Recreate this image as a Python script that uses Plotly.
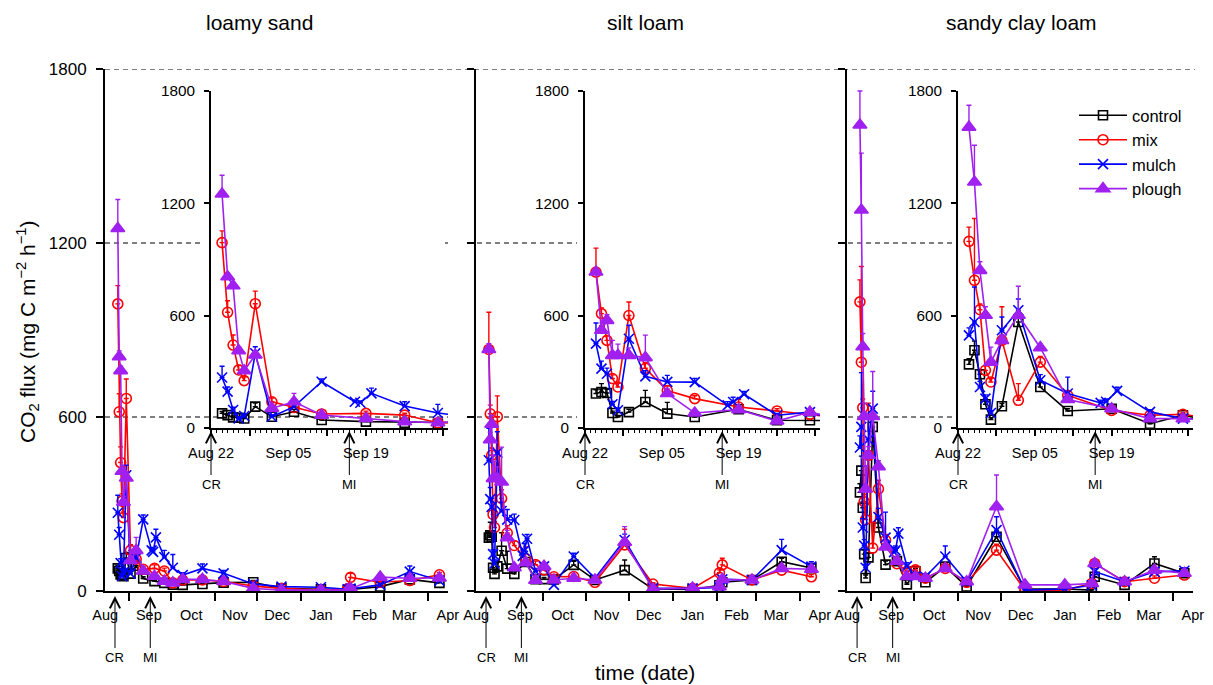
import plotly.graph_objects as go

W, H = 1213, 685

soil_names = ["loamy sand", "silt loam", "sandy clay loam"]
treatments = ["control", "mix", "mulch", "plough"]

# sampling dates (control, mix, plough) and mulch (extra dates after mulch incorporation)
sample_dates = ["2013-08-24", "2013-08-25", "2013-08-26", "2013-08-27", "2013-08-28",
                "2013-08-30", "2013-09-02", "2013-09-06", "2013-09-11", "2013-09-19",
                "2013-09-26", "2013-10-02", "2013-10-09", "2013-10-23", "2013-11-07",
                "2013-11-28", "2013-12-18", "2014-01-15", "2014-02-03", "2014-02-05",
                "2014-02-26", "2014-03-19", "2014-04-09"]
mulch_dates = ["2013-08-24", "2013-08-25", "2013-08-26", "2013-08-27", "2013-08-28",
               "2013-08-30", "2013-09-02", "2013-09-06", "2013-09-11", "2013-09-17",
               "2013-09-18", "2013-09-20", "2013-09-26", "2013-10-02", "2013-10-09",
               "2013-10-23", "2013-11-07", "2013-11-28", "2013-12-18", "2014-01-15",
               "2014-02-03", "2014-02-05", "2014-02-26", "2014-03-19", "2014-04-09"]

# loamy sand
ls_control = [78, 69, 57, 55, 51, 114, 60, 87, 43, 34, 28, 22, 21, 24, 29, 30, 9, 6, 3, 5, 15, 40, 28]
ls_control_err = [10, 8, 8, 6, 6, 19, 8, 12, 6, 5, 4, 4, 4, 5, 5, 6, 3, 2, 2, 2, 4, 8, 6]
ls_mix = [990, 618, 443, 310, 253, 664, 140, 110, 75, 78, 69, 28, 38, 38, 33, 17, 9, 3, 8, 47, 30, 36, 56]
ls_mix_err = [63, 62, 54, 25, 20, 67, 20, 15, 10, 12, 10, 6, 6, 6, 6, 4, 3, 2, 3, 14, 5, 6, 8]
ls_mulch = [270, 194, 96, 51, 64, 399, 60, 114, 247, 140, 135, 185, 117, 80, 55, 78, 61, 24, 15, 13, 6, 8, 21, 67, 36]
ls_mulch_err = [60, 25, 15, 8, 10, 35, 10, 15, 15, 10, 10, 28, 23, 46, 8, 15, 10, 5, 4, 3, 2, 3, 5, 19, 8]
ls_plough = [1250, 808, 760, 413, 306, 390, 105, 140, 69, 51, 34, 28, 40, 40, 33, 9, 3, 3, 3, 8, 48, 44, 45]
ls_plough_err = [100, 20, 15, 21, 20, 20, 15, 45, 10, 8, 6, 5, 6, 6, 6, 3, 2, 2, 2, 3, 8, 6, 6]

# silt loam
sl_control = [184, 192, 187, 80, 59, 85, 139, 77, 59, 100, 41, 41, 40, 90, 38, 72, 7, 5, 20, 30, 38, 101, 79]
sl_control_err = [20, 45, 20, 10, 8, 15, 62, 60, 10, 15, 6, 6, 6, 12, 6, 35, 3, 2, 4, 6, 6, 12, 10]
sl_mix = [833, 611, 468, 264, 219, 601, 319, 200, 157, 112, 91, 73, 49, 50, 30, 159, 24, 9, 63, 90, 38, 72, 49]
sl_mix_err = [128, 30, 25, 20, 20, 72, 30, 25, 15, 40, 12, 10, 8, 8, 6, 54, 5, 3, 10, 23, 6, 10, 8]
sl_mulch = [451, 317, 290, 127, 95, 477, 276, 246, 245, 121, 139, 180, 68, 85, 21, 119, 44, 176, 9, 9, 12, 40, 38, 141, 84]
sl_mulch_err = [110, 40, 30, 15, 12, 72, 30, 35, 20, 20, 25, 15, 10, 12, 5, 11, 8, 20, 3, 3, 4, 8, 6, 37, 17]
sl_plough = [833, 522, 575, 388, 388, 388, 376, 184, 80, 98, 37, 85, 38, 44, 38, 168, 7, 10, 15, 40, 38, 78, 75]
sl_plough_err = [20, 25, 30, 80, 60, 40, 120, 25, 10, 15, 6, 12, 6, 8, 6, 54, 3, 3, 4, 8, 6, 10, 10]

# sandy clay loam
scl_control = [340, 415, 287, 127, 45, 116, 566, 219, 91, 103, 23, 68, 30, 84, 15, 187, 7, 7, 3, 49, 21, 95, 61]
scl_control_err = [30, 50, 20, 15, 10, 15, 40, 30, 12, 15, 5, 10, 6, 12, 4, 20, 2, 2, 2, 8, 5, 23, 8]
scl_mix = [997, 789, 632, 308, 246, 468, 148, 352, 175, 94, 68, 73, 44, 78, 30, 141, 3, 3, 26, 95, 32, 44, 55]
scl_mix_err = [76, 330, 30, 25, 20, 180, 89, 30, 20, 12, 10, 10, 8, 12, 6, 20, 2, 2, 5, 12, 6, 8, 8]
scl_mulch = [495, 566, 219, 157, 80, 522, 629, 255, 184, 134, 140, 198, 86, 50, 49, 119, 32, 210, 3, 7, 20, 67, 32, 66, 70]
scl_mulch_err = [40, 187, 30, 20, 12, 71, 60, 30, 88, 15, 15, 20, 12, 8, 8, 36, 6, 46, 2, 2, 4, 10, 6, 10, 10]
scl_plough = [1607, 1314, 842, 602, 352, 468, 602, 429, 152, 103, 50, 50, 44, 78, 32, 291, 21, 21, 26, 95, 32, 72, 61]
scl_plough_err = [117, 196, 46, 46, 80, 30, 155, 20, 20, 15, 8, 8, 8, 12, 6, 109, 4, 4, 5, 12, 6, 10, 8]

month_starts = ["2013-09-01", "2013-10-01", "2013-11-01", "2013-12-01",
                "2014-01-01", "2014-02-01", "2014-03-01", "2014-04-01"]
month_mids = ["2013-08-15", "2013-09-15", "2013-10-15", "2013-11-15", "2013-12-15",
              "2014-01-15", "2014-02-15", "2014-03-15", "2014-04-15"]
month_labels = ["Aug", "Sep", "Oct", "Nov", "Dec", "Jan", "Feb", "Mar", "Apr"]

inset_ticks = ["2013-08-22", "2013-08-29", "2013-09-05", "2013-09-12",
               "2013-09-19", "2013-09-26", "2013-10-03"]
inset_labels = ["Aug 22", "", "Sep 05", "", "Sep 19", "", ""]

y_ticks = [0, 600, 1200, 1800]
cr_date = "2013-08-22"
mi_date = "2013-09-16"

series = {
    "loamy sand": {
        "control": (sample_dates, ls_control, ls_control_err),
        "mix": (sample_dates, ls_mix, ls_mix_err),
        "mulch": (mulch_dates, ls_mulch, ls_mulch_err),
        "plough": (sample_dates, ls_plough, ls_plough_err),
    },
    "silt loam": {
        "control": (sample_dates, sl_control, sl_control_err),
        "mix": (sample_dates, sl_mix, sl_mix_err),
        "mulch": (mulch_dates, sl_mulch, sl_mulch_err),
        "plough": (sample_dates, sl_plough, sl_plough_err),
    },
    "sandy clay loam": {
        "control": (sample_dates, scl_control, scl_control_err),
        "mix": (sample_dates, scl_mix, scl_mix_err),
        "mulch": (mulch_dates, scl_mulch, scl_mulch_err),
        "plough": (sample_dates, scl_plough, scl_plough_err),
    },
}

colors = {"control": "#000000", "mix": "#FF0000", "mulch": "#0000FF", "plough": "#A020F0"}
symbols = {"control": "square-open", "mix": "circle-open", "mulch": "x-thin-open", "plough": "triangle-up"}
msizes = {"control": 9, "mix": 10, "mulch": 10, "plough": 12}

FONT = "Liberation Sans, Arial, sans-serif"


def px_x(p):
    return p / W


def px_y(p):
    return 1 - p / H


main_dom = [(105, 448), (476, 820), (847, 1193)]
inset_dom = [(211, 448), (585, 820), (958, 1193)]
main_ydom = [px_y(591), px_y(69)]
inset_ydom = [px_y(428), px_y(91)]
main_range = ["2013-08-14 22:00", "2014-04-15 02:00"]
inset_range = ["2013-08-22 00:00", "2013-10-03 20:00"]

fig = go.Figure()
layout = {}

for i, soil in enumerate(soil_names):
    mx, my = 2 * i + 1, 2 * i + 1
    ix, iy = 2 * i + 2, 2 * i + 2
    for t in treatments:
        d, v, e = series[soil][t]
        for (ax_x, ax_y, leg) in [(mx, my, i == 0), (ix, iy, False)]:
            fig.add_trace(go.Scatter(
                x=d, y=v, name=t, legendgroup=t, showlegend=leg,
                mode="lines+markers",
                line=dict(color=colors[t], width=1.6),
                marker=dict(symbol=symbols[t], size=msizes[t], color=colors[t],
                            line=dict(color=colors[t], width=1.6)),
                error_y=dict(type="data", symmetric=False, array=e, arrayminus=[0] * len(e),
                             color=colors[t], thickness=1.4, width=2.5),
                xaxis="x" if ax_x == 1 else f"x{ax_x}",
                yaxis="y" if ax_y == 1 else f"y{ax_y}",
            ))

    kx = "xaxis" if mx == 1 else f"xaxis{mx}"
    ky = "yaxis" if my == 1 else f"yaxis{my}"
    layout[kx] = dict(
        domain=[px_x(main_dom[i][0]), px_x(main_dom[i][1])],
        anchor="y" if my == 1 else f"y{my}", type="date", range=main_range,
        showgrid=False, zeroline=False, showline=True, linecolor="black", linewidth=2,
        tickmode="array", tickvals=month_mids, ticktext=month_labels, ticks="",
        ticklabelstandoff=10, automargin=False,
        tickfont=dict(size=14.5, color="black", family=FONT),
        minor=dict(tickmode="array", tickvals=month_starts, ticks="outside",
                   ticklen=8, tickwidth=2, tickcolor="black", showgrid=False),
    )
    layout[ky] = dict(
        domain=main_ydom, anchor="x" if mx == 1 else f"x{mx}", range=[0, 1800],
        tickmode="array", tickvals=y_ticks, ticks="outside", ticklen=7, tickwidth=2,
        tickcolor="black", showline=True, linecolor="black", linewidth=2,
        showgrid=False, zeroline=False, showticklabels=(i == 0),
        ticklabelstandoff=6, automargin=False,
        tickfont=dict(size=17, color="black", family=FONT),
    )
    layout[f"xaxis{ix}"] = dict(
        domain=[px_x(inset_dom[i][0]), px_x(inset_dom[i][1])],
        anchor=f"y{iy}", type="date", range=inset_range,
        showgrid=False, zeroline=False, showline=True, linecolor="black", linewidth=2,
        tickmode="array", tickvals=inset_ticks, ticktext=inset_labels,
        ticks="outside", ticklen=6, tickwidth=1.5, tickcolor="black",
        ticklabelstandoff=5, automargin=False,
        tickfont=dict(size=14.5, color="black", family=FONT),
        minor=dict(tickmode="linear", tick0="2013-08-22", dtick=86400000, ticks="outside",
                   ticklen=3, tickwidth=1, tickcolor="black", showgrid=False),
    )
    layout[f"yaxis{iy}"] = dict(
        domain=inset_ydom, anchor=f"x{ix}", range=[0, 1800],
        tickmode="array", tickvals=y_ticks, ticks="outside", ticklen=5, tickwidth=1.5,
        tickcolor="black", showline=True, linecolor="black", linewidth=2,
        showgrid=False, zeroline=False, ticklabelstandoff=6, automargin=False,
        tickfont=dict(size=15.3, color="black", family=FONT),
    )

# dashed reference lines (value, from px, to px)
dash_lines = [(1800, 105, 1195),
              (1200, 105, 204), (1200, 445, 448), (1200, 477, 577), (1200, 848, 953),
              (600, 105, 448), (600, 477, 577), (600, 848, 957)]
shapes = []
for yv, a, b in dash_lines:
    shapes.append(dict(type="line", xref="paper", yref="y", x0=px_x(a), x1=px_x(b), y0=yv, y1=yv,
                       line=dict(color="black", width=1, dash="5px,4px"), layer="below"))

annotations = []
title_x = [259, 645, 1021]
for i, soil in enumerate(soil_names):
    annotations.append(dict(text=soil, x=px_x(title_x[i]), y=px_y(22), xref="paper", yref="paper",
                            showarrow=False, xanchor="center", yanchor="middle",
                            font=dict(size=21, color="black", family=FONT)))
    mx = "x" if i == 0 else f"x{2 * i + 1}"
    ixr = f"x{2 * i + 2}"
    for dt, lab in [(cr_date, "CR"), (mi_date, "MI")]:
        annotations.append(dict(text=lab, x=dt, xref=mx, y=px_y(596), yref="paper",
                                showarrow=True, arrowhead=5, arrowsize=2, arrowwidth=1,
                                arrowcolor="black", ax=0, ay=61,
                                font=dict(size=13, color="black", family=FONT)))
        annotations.append(dict(text=lab, x=dt, xref=ixr, y=px_y(431), yref="paper",
                                showarrow=True, arrowhead=5, arrowsize=2, arrowwidth=1,
                                arrowcolor="black", ax=0, ay=53,
                                font=dict(size=13, color="black", family=FONT)))

annotations.append(dict(text="CO<sub>2</sub> flux (mg C m<sup>\u22122</sup> h<sup>\u22121</sup>)",
                        x=px_x(28), y=px_y(332), xref="paper", yref="paper", textangle=-90,
                        showarrow=False, xanchor="center", yanchor="middle",
                        font=dict(size=21, color="black", family=FONT)))
annotations.append(dict(text="time (date)", x=px_x(645), y=px_y(672), xref="paper", yref="paper",
                        showarrow=False, xanchor="center", yanchor="middle",
                        font=dict(size=21, color="black", family=FONT)))

fig.update_layout(
    width=W, height=H, autosize=False,
    margin=dict(l=0, r=0, t=0, b=0, pad=0, autoexpand=False),
    paper_bgcolor="white", plot_bgcolor="rgba(0,0,0,0)",
    font=dict(family=FONT, color="black"),
    shapes=shapes, annotations=annotations,
    legend=dict(x=px_x(1074), y=px_y(98), xanchor="left", yanchor="top",
                bgcolor="rgba(0,0,0,0)", font=dict(size=16.5, color="black", family=FONT),
                tracegroupgap=0, itemwidth=48),
    **layout,
)

fig.write_html("out.html", config={"displayModeBar": False},
               post_script="document.body.style.margin='0';document.body.style.overflow='hidden';")
